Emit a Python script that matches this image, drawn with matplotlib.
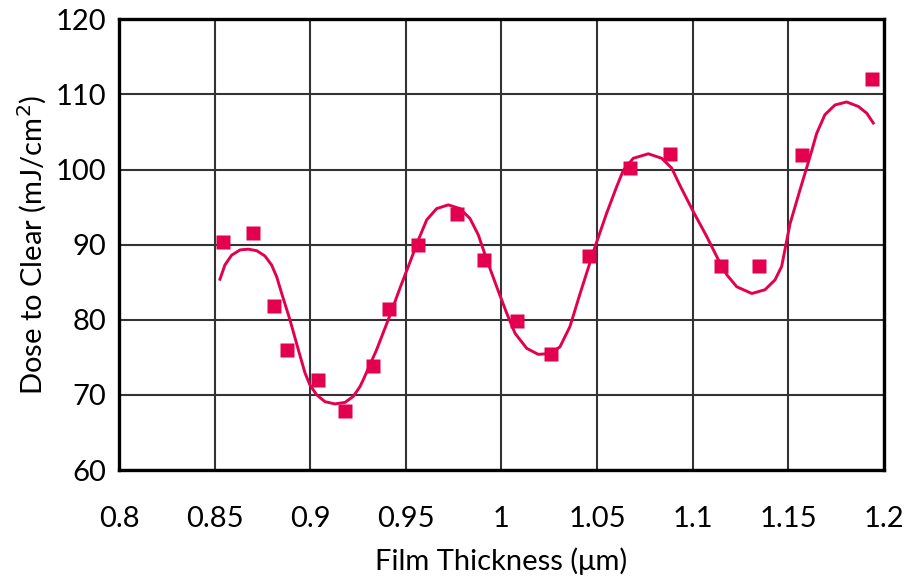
import matplotlib
matplotlib.use("Agg")
import matplotlib.pyplot as plt

# measured points (film thickness in um, dose in mJ/cm2)
thickness = [0.8545, 0.870, 0.881, 0.888, 0.904, 0.918, 0.933, 0.941, 0.9565,
             0.977, 0.991, 1.008, 1.026, 1.046, 1.067, 1.088, 1.115, 1.1345,
             1.157, 1.194]
dose = [90.3, 91.6, 81.9, 76.0, 72.0, 67.9, 73.9, 81.4, 89.9,
        94.1, 88.0, 79.9, 75.4, 88.5, 100.2, 102.1, 87.1, 87.1,
        102.0, 112.1]

# fitted curve
fit_x = [0.8528, 0.8554, 0.8589, 0.8633, 0.8676, 0.8720, 0.8763, 0.8798, 0.8825,
         0.8851, 0.8894, 0.8938, 0.8973, 0.8999, 0.9034, 0.9077, 0.9129, 0.9182,
         0.9225, 0.9260, 0.9277, 0.9347, 0.9417, 0.9469, 0.9522, 0.9565, 0.9609,
         0.9661, 0.9722, 0.9783, 0.9835, 0.9879, 0.9923, 0.9975, 1.0027, 1.0071,
         1.0132, 1.0192, 1.0254, 1.0306, 1.0358, 1.0410, 1.0445, 1.0489, 1.0550,
         1.0602, 1.0637, 1.0689, 1.0768, 1.0838, 1.0890, 1.0933, 1.1003, 1.1073,
         1.1134, 1.1178, 1.1230, 1.1309, 1.1378, 1.1430, 1.1465, 1.1509, 1.1561,
         1.1613, 1.1648, 1.1691, 1.1744, 1.1805, 1.1866, 1.1910, 1.1944]
fit_y = [85.4, 87.3, 88.6, 89.3, 89.4, 89.2, 88.5, 87.3, 85.7,
         83.5, 80.0, 76.0, 72.9, 71.3, 70.0, 69.1, 68.8, 69.0,
         69.8, 71.1, 72.0, 76.0, 80.6, 84.2, 87.7, 90.6, 93.3,
         94.8, 95.3, 94.8, 93.5, 91.3, 88.0, 84.4, 80.9, 78.2,
         76.2, 75.4, 75.5, 76.4, 79.1, 83.4, 86.2, 89.7, 94.2,
         97.7, 99.9, 101.5, 102.1, 101.5, 100.2, 97.9, 94.4, 91.1,
         88.0, 86.0, 84.4, 83.5, 84.0, 85.3, 87.1, 92.8, 97.3,
         101.7, 104.8, 107.3, 108.6, 109.0, 108.4, 107.5, 106.2]

x_ticks = [0.8, 0.85, 0.9, 0.95, 1.0, 1.05, 1.1, 1.15, 1.2]
x_labels = ["0.8", "0.85", "0.9", "0.95", "1", "1.05", "1.1", "1.15", "1.2"]
y_ticks = [60, 70, 80, 90, 100, 110, 120]

red = "#E2004F"
plt.rcParams['font.family'] = ['Lato', 'DejaVu Sans']

fig = plt.figure(figsize=(9.13, 5.82), dpi=100)
ax = fig.add_axes([0.1303, 0.1924, 0.8379, 0.7744])

ax.plot(fit_x, fit_y, color=red, lw=2.1, solid_joinstyle='round', zorder=3)
ax.plot(thickness, dose, 's', color=red, ms=9.5, mec='none', zorder=4)

ax.set_xlim(0.8, 1.2)
ax.set_ylim(60, 120)
ax.set_xticks(x_ticks)
ax.set_xticklabels(x_labels)
ax.set_yticks(y_ticks)
ax.tick_params(length=0, labelsize=21, pad=9)
ax.tick_params(axis='x', pad=26)
ax.grid(True, color='#333333', lw=1.5)
ax.set_axisbelow(True)
for s in ax.spines.values():
    s.set_linewidth(2.4)
    s.set_color('black')

ax.set_xlabel("Film Thickness (μm)", fontsize=21, labelpad=11)
ax.set_ylabel("Dose to Clear (mJ/cm$^2$)", fontsize=21, labelpad=5)

fig.savefig("out.png", dpi=100)
